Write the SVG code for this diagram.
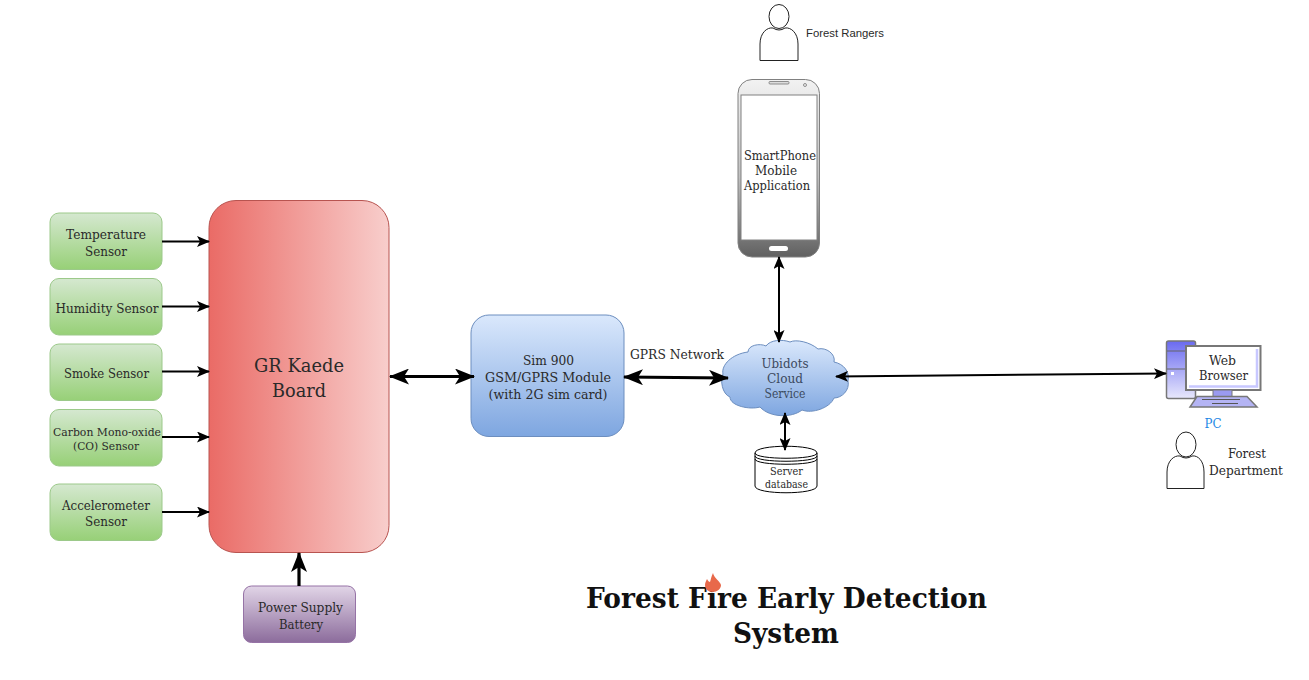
<svg xmlns="http://www.w3.org/2000/svg" width="1309" height="680" viewBox="0 0 1309 680">
<style>
text{font-family:"DejaVu Serif","Liberation Serif",serif;fill:#2a2a2a;text-anchor:middle;font-size:12.500px}
.green{fill:url(#g);stroke:#9cc98a;stroke-width:1}
.person{fill:#fff;stroke:#222;stroke-width:1}
.c1{fill:none;stroke:#000;stroke-width:2}
.c2{fill:none;stroke:#000;stroke-width:3.2}
</style>
<defs>
<linearGradient id="g" x1="0" y1="0" x2="0" y2="1"><stop offset="0" stop-color="#d5e8d0"/><stop offset="1" stop-color="#97d077"/></linearGradient>
<linearGradient id="r" x1="0" y1="0" x2="1" y2="0"><stop offset="0" stop-color="#ea6b66"/><stop offset="1" stop-color="#f8cecc"/></linearGradient>
<linearGradient id="b" x1="0" y1="0" x2="0" y2="1"><stop offset="0" stop-color="#dae8fc"/><stop offset="1" stop-color="#7ea6e0"/></linearGradient>
<linearGradient id="p" x1="0" y1="0" x2="0" y2="1"><stop offset="0" stop-color="#e1d5e7"/><stop offset="1" stop-color="#8c6c9c"/></linearGradient>
<linearGradient id="ph" x1="0" y1="0" x2="0" y2="1"><stop offset="0" stop-color="#f2f2f2"/><stop offset=".55" stop-color="#c0c0c0"/><stop offset="1" stop-color="#606060"/></linearGradient>
<linearGradient id="pc" x1="0" y1="0" x2="0" y2="1"><stop offset="0" stop-color="#6a6af0"/><stop offset="1" stop-color="#e8e8fc"/></linearGradient>
<marker id="a" viewBox="0 0 13 11" refX="12" refY="5.500" markerWidth="13" markerHeight="11" markerUnits="userSpaceOnUse" orient="auto-start-reverse"><path d="M0 0L13 5.500L0 11L3 5.500Z" fill="#000"/></marker>
<marker id="A" viewBox="0 0 20 16" refX="19" refY="8" markerWidth="20" markerHeight="16" markerUnits="userSpaceOnUse" orient="auto-start-reverse"><path d="M0 0L20 8L0 16L5 8Z" fill="#000"/></marker>
</defs>
<g id="temp"><rect class="green" x="50" y="213" width="112" height="56.500" rx="9"/><text x="106" y="239" textLength="80" lengthAdjust="spacingAndGlyphs">Temperature</text><text x="106" y="256" textLength="42" lengthAdjust="spacingAndGlyphs">Sensor</text></g>
<g id="hum"><rect class="green" x="50" y="278.500" width="112" height="56.500" rx="9"/><text x="107" y="312.500" textLength="103" lengthAdjust="spacingAndGlyphs">Humidity Sensor</text></g>
<g id="smoke"><rect class="green" x="50" y="344" width="112" height="56.500" rx="9"/><text x="106.500" y="378" textLength="85" lengthAdjust="spacingAndGlyphs">Smoke Sensor</text></g>
<g id="co"><rect class="green" x="50" y="409.500" width="112" height="56.500" rx="9"/><text x="107" y="436" style="font-size:11.500px" textLength="108" lengthAdjust="spacingAndGlyphs">Carbon Mono-oxide</text><text x="106" y="450" style="font-size:11.500px" textLength="66" lengthAdjust="spacingAndGlyphs">(CO) Sensor</text></g>
<g id="accel"><rect class="green" x="50" y="484" width="112" height="56.500" rx="9"/><text x="106" y="510" textLength="88" lengthAdjust="spacingAndGlyphs">Accelerometer</text><text x="106" y="526" textLength="42" lengthAdjust="spacingAndGlyphs">Sensor</text></g>
<g id="board"><rect x="209" y="200.500" width="180" height="352" rx="27" fill="url(#r)" stroke="#b85450"/><text x="299" y="372" style="font-size:18.500px" textLength="90" lengthAdjust="spacingAndGlyphs">GR Kaede</text><text x="299" y="397" style="font-size:18.500px" textLength="54" lengthAdjust="spacingAndGlyphs">Board</text></g>
<g id="power"><rect x="243.500" y="586" width="112" height="56.500" rx="8" fill="url(#p)" stroke="#9673a6"/><text x="300.500" y="612" textLength="85" lengthAdjust="spacingAndGlyphs">Power Supply</text><text x="301" y="629" textLength="44" lengthAdjust="spacingAndGlyphs">Battery</text></g>
<g id="gsm"><rect x="471" y="315" width="153" height="121.500" rx="18" fill="url(#b)" stroke="#6c8ebf"/><text x="548.500" y="365" textLength="51" lengthAdjust="spacingAndGlyphs">Sim 900</text><text x="548" y="382" textLength="126" lengthAdjust="spacingAndGlyphs">GSM/GPRS Module</text><text x="548" y="399" textLength="119" lengthAdjust="spacingAndGlyphs">(with 2G sim card)</text></g>
<g id="gprs-label"><text x="677" y="359" textLength="94" lengthAdjust="spacingAndGlyphs">GPRS Network</text></g>
<g id="cloud"><path d="M748 352C748 345 760 343 766 346C770 340 782 339 790 342C796 339 810 342 818 349C826 347 836 354 834 362C844 364 850 372 848 381C850 390 842 398 834 398C830 408 812 414 802 410C792 418 770 418 760 407C750 410 730 406 730 397C722 394 720 380 723 374C721 365 732 354 748 352Z" fill="url(#b)" stroke="#6c8ebf"/><text x="785" y="368" style="fill:#3c4a60" textLength="47" lengthAdjust="spacingAndGlyphs">Ubidots</text><text x="785" y="383" style="fill:#3c4a60" textLength="36" lengthAdjust="spacingAndGlyphs">Cloud</text><text x="785" y="398" style="fill:#3c4a60" textLength="41" lengthAdjust="spacingAndGlyphs">Service</text></g>
<g id="db"><path d="M755 453C755 444 817 444 817 453V486C817 495 755 495 755 486Z" fill="#fff" stroke="#000"/><path d="M755 453C755 460 817 460 817 453M755 456C755 463 817 463 817 456M755 459C755 466 817 466 817 459" fill="none" stroke="#000"/><text x="786.500" y="475" style="font-size:10.500px" textLength="33" lengthAdjust="spacingAndGlyphs">Server</text><text x="786.500" y="488" style="font-size:10.500px" textLength="43" lengthAdjust="spacingAndGlyphs">database</text></g>
<g id="phone"><rect x="738" y="79.500" width="81.500" height="177.500" rx="14" fill="url(#ph)" stroke="#808080"/><rect x="741" y="95" width="76" height="145" fill="#fff" stroke="#808080"/><rect x="769" y="246" width="19" height="5" rx="2.500" fill="#fff"/><rect x="769" y="81.500" width="20" height="2.500" rx="1" fill="#ddd" stroke="#777" stroke-width=".8"/><circle cx="805" cy="85" r="1.500" fill="#eee" stroke="#777" stroke-width=".8"/><text x="780" y="160" textLength="72" lengthAdjust="spacingAndGlyphs">SmartPhone</text><text x="776" y="175" textLength="42" lengthAdjust="spacingAndGlyphs">Mobile</text><text x="777" y="190" textLength="66" lengthAdjust="spacingAndGlyphs">Application</text></g>
<g id="ranger"><ellipse class="person" cx="779" cy="16.500" rx="10" ry="12"/><path class="person" d="M760 60.500V44C760 33 767 27 773 28Q779 32 785 28C791 27 798 33 798 44V60.500Z"/><text x="845" y="37" style="font-family:'Liberation Sans',Arial,sans-serif;font-size:11px" textLength="78" lengthAdjust="spacingAndGlyphs">Forest Rangers</text></g>
<g id="pc"><rect x="1166.500" y="341" width="29" height="57.500" rx="2" fill="url(#pc)" stroke="#777" stroke-width="1.500"/><path d="M1167 351H1195M1167 369H1195" stroke="#666" stroke-width="1.200"/><rect x="1171" y="372" width="3" height="3" fill="#fff"/><rect x="1186" y="346" width="74.500" height="44" fill="#fff" stroke="#777" stroke-width="2"/><path d="M1189 386.500H1257V349" fill="none" stroke="#c8c8ff" stroke-width="2.500"/><rect x="1213" y="390" width="19" height="8" fill="#9a9af0" stroke="#777"/><path d="M1197 396.500H1247L1257 407H1190Z" fill="#b4b4f4" stroke="#777" stroke-width="1.500"/><path d="M1202 399.500H1240M1212 403.500H1238" stroke="#555"/><text x="1222.500" y="365" textLength="27" lengthAdjust="spacingAndGlyphs">Web</text><text x="1223.500" y="380" textLength="49" lengthAdjust="spacingAndGlyphs">Browser</text><text x="1213" y="428" style="fill:#1e88e5" textLength="17" lengthAdjust="spacingAndGlyphs">PC</text></g>
<g id="dept"><ellipse class="person" cx="1186" cy="444.500" rx="10" ry="12.500"/><path class="person" d="M1167 488.500V472C1167 461 1174 455 1180 456Q1186 460 1192 456C1198 455 1204 461 1204 472V488.500Z"/><text x="1247" y="458" textLength="38" lengthAdjust="spacingAndGlyphs">Forest</text><text x="1246" y="475" textLength="74" lengthAdjust="spacingAndGlyphs">Department</text></g>
<g id="title"><text x="786.500" y="608" style="font-size:27.500px;font-weight:bold;fill:#111" textLength="401" lengthAdjust="spacingAndGlyphs">Forest Fire Early Detection</text><text x="786" y="643" style="font-size:27.500px;font-weight:bold;fill:#111" textLength="106" lengthAdjust="spacingAndGlyphs">System</text><path d="M713 573C714 578 720 581 721 585C721 589 717 592 713 592C708 592 705 589 705 585C705 583 706 581 707 579C708 581 709 582 710 582C711 579 711 577 713 573Z" fill="#e8694a"/></g>
<g id="connectors">
<path class="c1" marker-end="url(#a)" d="M162 241.500H209"/>
<path class="c1" marker-end="url(#a)" d="M162 306.500H209"/>
<path class="c1" marker-end="url(#a)" d="M162 371.500H209"/>
<path class="c1" marker-end="url(#a)" d="M162 437H209"/>
<path class="c1" marker-end="url(#a)" d="M162 512H209"/>
<path class="c2" marker-end="url(#A)" d="M299 586V553"/>
<path class="c2" marker-start="url(#A)" marker-end="url(#A)" d="M390 376.500H474"/>
<path class="c2" marker-start="url(#A)" marker-end="url(#A)" d="M624 377L728 378"/>
<path class="c1" marker-start="url(#a)" marker-end="url(#a)" d="M779 257V342"/>
<path class="c1" marker-start="url(#a)" marker-end="url(#a)" d="M785 413V450"/>
<path class="c1" marker-start="url(#a)" marker-end="url(#a)" d="M836 376.500L1166 373.500"/>
</g>
</svg>
